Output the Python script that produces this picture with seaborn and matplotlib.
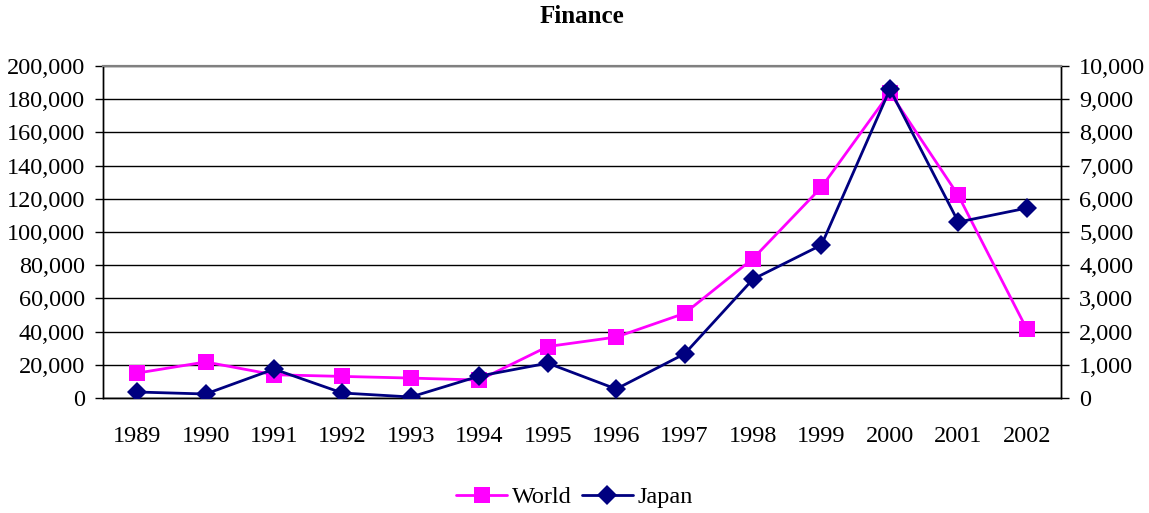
import numpy as np
import pandas as pd
import seaborn as sns
from matplotlib import pyplot as plt
from matplotlib.ticker import FuncFormatter, MultipleLocator
from matplotlib.lines import Line2D

years = ['1989', '1990', '1991', '1992', '1993', '1994', '1995',
         '1996', '1997', '1998', '1999', '2000', '2001', '2002']
world = [15000, 21700, 14000, 13000, 12000, 10800, 31000,
         36700, 51000, 84000, 127000, 184000, 122000, 41500]
japan = [180, 120, 870, 150, 30, 660, 1050,
         270, 1330, 3580, 4610, 9300, 5300, 5720]

sns.set_style("white")
plt.rcParams['font.family'] = ['Liberation Serif', 'DejaVu Serif']
plt.rcParams['text.color'] = 'black'
plt.rcParams['xtick.color'] = 'black'
plt.rcParams['ytick.color'] = 'black'
plt.rcParams['axes.labelcolor'] = 'black'

df = pd.DataFrame({'pos': np.arange(len(years)), 'World': world, 'Japan': japan})

fs = 17.5
fig = plt.figure(figsize=(11.49, 5.13), dpi=100)
ax = fig.add_axes([0.0896, 0.2242, 0.8338, 0.6471])
ax2 = ax.twinx()

sns.lineplot(data=df, x='pos', y='World', ax=ax, color='#FF00FF', marker='s',
             markersize=11, markeredgewidth=0, linewidth=2, zorder=3)
sns.lineplot(data=df, x='pos', y='Japan', ax=ax2, color='#000080', marker='D',
             markersize=10, markeredgewidth=0, linewidth=2, zorder=3)

fmt = FuncFormatter(lambda v, p: f'{int(v):,}')
ax.set_ylim(0, 200000)
ax.yaxis.set_major_locator(MultipleLocator(20000))
ax.yaxis.set_major_formatter(fmt)
ax2.set_ylim(0, 10000)
ax2.yaxis.set_major_locator(MultipleLocator(1000))
ax2.yaxis.set_major_formatter(fmt)

ax.set_xlim(-0.5, len(years) - 0.5)
ax.set_xticks(np.arange(len(years)))
ax.set_xticklabels(years)
ax.set_xticks(np.arange(-0.5, len(years)), minor=True)
ax.tick_params(axis='x', which='major', length=0, labelsize=fs, pad=20)
ax.tick_params(axis='x', which='minor', length=6, width=1, direction='out')
ax.tick_params(axis='y', length=6, width=1, labelsize=fs, direction='out', left=True, pad=7)
ax2.tick_params(axis='y', length=6, width=1, labelsize=fs, direction='out', right=True, pad=7)

ax.grid(axis='y', color='black', linewidth=1)
ax.set_axisbelow(True)
ax.set_xlabel('')
ax.set_ylabel('')
ax2.set_ylabel('')

for a in (ax, ax2):
    a.spines['top'].set_color('#808080')
    a.spines['top'].set_linewidth(1.5)
    for s in ('left', 'right', 'bottom'):
        a.spines[s].set_color('black')
        a.spines[s].set_linewidth(1)

ax.set_title('Finance', fontsize=18, fontweight='bold', pad=31)

handles = [Line2D([], [], color='#FF00FF', marker='s', markersize=11, markeredgewidth=0, linewidth=2),
           Line2D([], [], color='#000080', marker='D', markersize=10, markeredgewidth=0, linewidth=2)]
fig.legend(handles, ['World', 'Japan'], loc='center', bbox_to_anchor=(0.5, 0.031), ncol=2,
           frameon=False, fontsize=fs, handlelength=2.1, columnspacing=0.4, handletextpad=0.2)

fig.savefig('out.png', dpi=100)
